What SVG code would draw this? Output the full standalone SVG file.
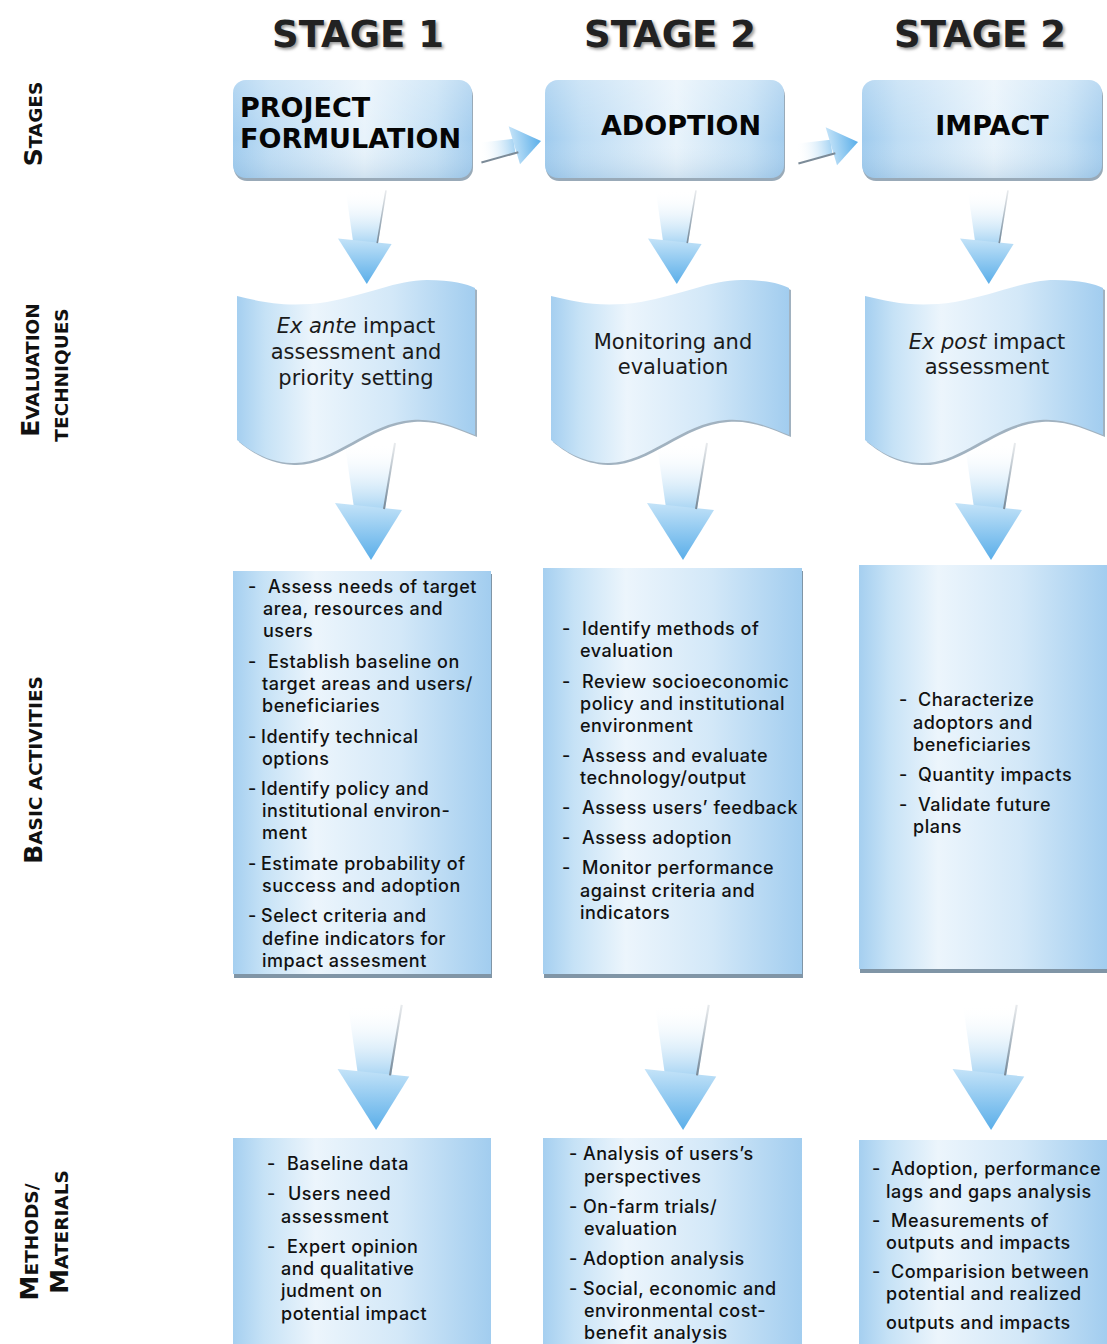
<svg xmlns="http://www.w3.org/2000/svg" xmlns:xlink="http://www.w3.org/1999/xlink" width="1107" height="1344" viewBox="0 0 1107 1344">
<style>
.hdr{font-family:"DejaVu Sans",sans-serif;font-weight:bold;font-size:37px;fill:#222;text-anchor:middle}
.bx{font-family:"DejaVu Sans",sans-serif;font-weight:bold;font-size:27px;fill:#050505}
.wav{font-family:"DejaVu Sans",sans-serif;font-size:21px;fill:#1a1a1a;text-anchor:middle}
.act{font-family:Inter,"Open Sans",sans-serif;font-weight:500;font-size:18px;letter-spacing:0.5px;fill:#111}
.lbl{font-family:"DejaVu Sans",sans-serif;font-weight:bold;font-size:18.5px;fill:#111;text-anchor:middle}
.big{font-size:25px}
.shadow{fill:#8095a6}
</style>
<defs>
<linearGradient id="gBox" x1="0" y1="0" x2="1" y2="0">
<stop offset="0" stop-color="#9fcbee"/>
<stop offset="0.15" stop-color="#bddcf4"/>
<stop offset="0.55" stop-color="#e8f3fb"/>
<stop offset="0.85" stop-color="#c4e0f5"/>
<stop offset="1" stop-color="#a4cdee"/>
</linearGradient>
<linearGradient id="gBoxV" x1="0" y1="0" x2="0" y2="1">
<stop offset="0" stop-color="#ffffff" stop-opacity="0.25"/>
<stop offset="0.6" stop-color="#ffffff" stop-opacity="0"/>
<stop offset="1" stop-color="#6d9cc4" stop-opacity="0.2"/>
</linearGradient>
<linearGradient id="gCol" x1="0" y1="0" x2="1" y2="0">
<stop offset="0" stop-color="#a5cff0"/>
<stop offset="0.12" stop-color="#c6e2f6"/>
<stop offset="0.32" stop-color="#ecf5fc"/>
<stop offset="0.65" stop-color="#d3e8f8"/>
<stop offset="1" stop-color="#a2cdef"/>
</linearGradient>
<linearGradient id="gShaft" x1="0" y1="0" x2="0" y2="1">
<stop offset="0" stop-color="#ffffff" stop-opacity="0"/>
<stop offset="1" stop-color="#a7d4f3"/>
</linearGradient>
<linearGradient id="gHead" x1="0" y1="0" x2="0" y2="1">
<stop offset="0" stop-color="#c4e3f8"/>
<stop offset="1" stop-color="#5aaee9"/>
</linearGradient>
<linearGradient id="gLine" x1="0" y1="0" x2="0" y2="1">
<stop offset="0" stop-color="#8d9aa6" stop-opacity="0.2"/>
<stop offset="1" stop-color="#7c8b98"/>
</linearGradient>
<linearGradient id="gHShaft" x1="0" y1="0" x2="1" y2="0">
<stop offset="0" stop-color="#ffffff" stop-opacity="0"/>
<stop offset="1" stop-color="#a7d4f3"/>
</linearGradient>
<linearGradient id="gHHead" x1="0" y1="0" x2="1" y2="0">
<stop offset="0" stop-color="#c4e3f8"/>
<stop offset="1" stop-color="#5aaee9"/>
</linearGradient>
<filter id="soft" x="-10%" y="-20%" width="120%" height="150%">
<feGaussianBlur stdDeviation="1.5"/>
</filter>
<g id="darrow">
<path d="M-25,-115 L25,-117 L15,-50 L-16,-52 Z" fill="url(#gShaft)"/>
<path d="M-35,-57 L32,-50 L1,0 Z" fill="url(#gHead)"/>
<path d="M25,-117 L14,-51" stroke="url(#gLine)" stroke-width="2" fill="none"/>
</g>
<g id="harrow">
<path d="M-62,-7 L-27,-6 L-27,8 L-62,12 Z" fill="url(#gHShaft)"/>
<path d="M-30,-19 L0,0 L-24,20 Z" fill="url(#gHHead)"/>
<path d="M-62,13 L-24,8" stroke="#7c8b98" stroke-width="2" fill="none"/>
</g>
<path id="wave" d="M0,16 C25,22 50,28 90,22 C130,15 160,0 190,0 C215,0 230,4 238,8 L238,155 C220,148 200,138 175,140 C130,143 95,185 55,183 C30,182 12,170 0,160 Z"/>
</defs>

<g id="row-labels">
<text class="lbl" transform="translate(42,124) rotate(-90)"><tspan class="big">S</tspan>TAGES</text>
<text class="lbl" transform="translate(39,370) rotate(-90)"><tspan class="big">E</tspan>VALUATION</text>
<text class="lbl" transform="translate(68,375) rotate(-90)">TECHNIQUES</text>
<text class="lbl" transform="translate(42,770) rotate(-90)"><tspan class="big">B</tspan>ASIC ACTIVITIES</text>
<text class="lbl" transform="translate(38,1242) rotate(-90)"><tspan class="big">M</tspan>ETHODS/</text>
<text class="lbl" transform="translate(68,1232) rotate(-90)"><tspan class="big">M</tspan>ATERIALS</text>
</g>

<g id="stage-headers">
<text class="hdr" x="360" y="49" style="fill:#9a9a9a" filter="url(#soft)">STAGE 1</text>
<text class="hdr" x="358" y="47">STAGE 1</text>
<text class="hdr" x="672" y="49" style="fill:#9a9a9a" filter="url(#soft)">STAGE 2</text>
<text class="hdr" x="670" y="47">STAGE 2</text>
<text class="hdr" x="982" y="49" style="fill:#9a9a9a" filter="url(#soft)">STAGE 2</text>
<text class="hdr" x="980" y="47">STAGE 2</text>
</g>

<g id="connectors">
<use href="#harrow" transform="translate(541,141) rotate(-8)"/>
<use href="#harrow" transform="translate(858,142) rotate(-8)"/>
<use href="#darrow" transform="translate(366,284) scale(0.8)"/>
<use href="#darrow" transform="translate(676,284) scale(0.8)"/>
<use href="#darrow" transform="translate(988,284) scale(0.8)"/>
<use href="#darrow" transform="translate(370,560)"/>
<use href="#darrow" transform="translate(682,560)"/>
<use href="#darrow" transform="translate(990,560)"/>
<use href="#darrow" transform="translate(375,1130) scale(1.07)"/>
<use href="#darrow" transform="translate(682,1130) scale(1.07)"/>
<use href="#darrow" transform="translate(990,1130) scale(1.07)"/>
</g>

<g id="stage-project-formulation">
<rect x="234" y="83" width="239" height="98" rx="13" class="shadow" opacity="0.8"/>
<rect x="233" y="80" width="239" height="98" rx="13" fill="url(#gBox)"/>
<rect x="233" y="80" width="239" height="98" rx="13" fill="url(#gBoxV)"/>
<text class="bx" x="240" y="117">PROJECT</text>
<text class="bx" x="240" y="148">FORMULATION</text>
</g>
<g id="stage-adoption">
<rect x="546" y="83" width="239" height="98" rx="13" class="shadow" opacity="0.8"/>
<rect x="545" y="80" width="239" height="98" rx="13" fill="url(#gBox)"/>
<rect x="545" y="80" width="239" height="98" rx="13" fill="url(#gBoxV)"/>
<text class="bx" x="681" y="135" text-anchor="middle">ADOPTION</text>
</g>
<g id="stage-impact">
<rect x="863" y="83" width="240" height="98" rx="13" class="shadow" opacity="0.8"/>
<rect x="862" y="80" width="240" height="98" rx="13" fill="url(#gBox)"/>
<rect x="862" y="80" width="240" height="98" rx="13" fill="url(#gBoxV)"/>
<text class="bx" x="992" y="135" text-anchor="middle">IMPACT</text>
</g>

<g id="eval-ex-ante">
<use href="#wave" transform="translate(239,282)" fill="#8a9fb0" opacity="0.8"/>
<use href="#wave" transform="translate(237,280)" fill="url(#gCol)"/>
<text class="wav" x="356" y="333"><tspan font-style="italic">Ex ante</tspan> impact</text>
<text class="wav" x="356" y="359">assessment and</text>
<text class="wav" x="356" y="385">priority setting</text>
</g>
<g id="eval-monitoring">
<use href="#wave" transform="translate(553,282)" fill="#8a9fb0" opacity="0.8"/>
<use href="#wave" transform="translate(551,280)" fill="url(#gCol)"/>
<text class="wav" x="673" y="349">Monitoring and</text>
<text class="wav" x="673" y="374">evaluation</text>
</g>
<g id="eval-ex-post">
<use href="#wave" transform="translate(867,282)" fill="#8a9fb0" opacity="0.8"/>
<use href="#wave" transform="translate(865,280)" fill="url(#gCol)"/>
<text class="wav" x="987" y="349"><tspan font-style="italic">Ex post</tspan> impact</text>
<text class="wav" x="987" y="374">assessment</text>
</g>

<g id="activities-stage1">
<rect x="234" y="574" width="258" height="404" class="shadow"/>
<rect x="233" y="571" width="258" height="403" fill="url(#gCol)"/>
<text class="act"><tspan x="248" y="593">-</tspan><tspan x="268">Assess needs of target</tspan></text>
<text class="act" x="263" y="615">area, resources and</text>
<text class="act" x="263" y="637">users</text>
<text class="act"><tspan x="248" y="668">-</tspan><tspan x="268">Establish baseline on</tspan></text>
<text class="act" x="262" y="690">target areas and users/</text>
<text class="act" x="262" y="712">beneficiaries</text>
<text class="act"><tspan x="248" y="743">-</tspan><tspan x="261">Identify technical</tspan></text>
<text class="act" x="262" y="765">options</text>
<text class="act"><tspan x="248" y="795">-</tspan><tspan x="261">Identify policy and</tspan></text>
<text class="act" x="262" y="817">institutional environ-</text>
<text class="act" x="262" y="839">ment</text>
<text class="act"><tspan x="248" y="870">-</tspan><tspan x="261">Estimate probability of</tspan></text>
<text class="act" x="262" y="892">success and adoption</text>
<text class="act"><tspan x="248" y="922">-</tspan><tspan x="261">Select criteria and</tspan></text>
<text class="act" x="262" y="945">define indicators for</text>
<text class="act" x="262" y="967">impact assesment</text>
</g>
<g id="activities-stage2">
<rect x="544" y="571" width="259" height="407" class="shadow"/>
<rect x="543" y="568" width="259" height="406" fill="url(#gCol)"/>
<text class="act"><tspan x="562" y="635">-</tspan><tspan x="582">Identify methods of</tspan></text>
<text class="act" x="580" y="657">evaluation</text>
<text class="act"><tspan x="562" y="688">-</tspan><tspan x="582">Review  socioeconomic</tspan></text>
<text class="act" x="580" y="710">policy and institutional</text>
<text class="act" x="580" y="732">environment</text>
<text class="act"><tspan x="562" y="762">-</tspan><tspan x="582">Assess and evaluate</tspan></text>
<text class="act" x="580" y="784">technology/output</text>
<text class="act"><tspan x="562" y="814">-</tspan><tspan x="582">Assess users’ feedback</tspan></text>
<text class="act"><tspan x="562" y="844">-</tspan><tspan x="582">Assess adoption</tspan></text>
<text class="act"><tspan x="562" y="874">-</tspan><tspan x="582">Monitor performance</tspan></text>
<text class="act" x="580" y="897">against criteria and</text>
<text class="act" x="580" y="919">indicators</text>
</g>
<g id="activities-stage3">
<rect x="860" y="568" width="247" height="405" class="shadow"/>
<rect x="859" y="565" width="248" height="404" fill="url(#gCol)"/>
<text class="act"><tspan x="899" y="706">-</tspan><tspan x="918">Characterize</tspan></text>
<text class="act" x="913" y="729">adoptors and</text>
<text class="act" x="913" y="751">beneficiaries</text>
<text class="act"><tspan x="899" y="781">-</tspan><tspan x="918">Quantity impacts</tspan></text>
<text class="act"><tspan x="899" y="811">-</tspan><tspan x="918">Validate future</tspan></text>
<text class="act" x="913" y="833">plans</text>
</g>

<g id="methods-stage1">
<rect x="233" y="1138" width="258" height="206" fill="url(#gCol)"/>
<text class="act"><tspan x="267" y="1170">-</tspan><tspan x="287">Baseline data</tspan></text>
<text class="act"><tspan x="267" y="1200">-</tspan><tspan x="288">Users need</tspan></text>
<text class="act" x="281" y="1223">assessment</text>
<text class="act"><tspan x="267" y="1253">-</tspan><tspan x="287">Expert opinion</tspan></text>
<text class="act" x="281" y="1275">and qualitative</text>
<text class="act" x="281" y="1297">judment on</text>
<text class="act" x="281" y="1320">potential impact</text>
</g>
<g id="methods-stage2">
<rect x="543" y="1138" width="259" height="206" fill="url(#gCol)"/>
<text class="act"><tspan x="569" y="1160">-</tspan><tspan x="583">Analysis of users’s</tspan></text>
<text class="act" x="584" y="1183">perspectives</text>
<text class="act"><tspan x="569" y="1213">-</tspan><tspan x="583">On-farm trials/</tspan></text>
<text class="act" x="584" y="1235">evaluation</text>
<text class="act"><tspan x="569" y="1265">-</tspan><tspan x="583">Adoption analysis</tspan></text>
<text class="act"><tspan x="569" y="1295">-</tspan><tspan x="583">Social, economic and</tspan></text>
<text class="act" x="584" y="1317">environmental cost-</text>
<text class="act" x="584" y="1339">benefit analysis</text>
</g>
<g id="methods-stage3">
<rect x="859" y="1140" width="248" height="204" fill="url(#gCol)"/>
<text class="act"><tspan x="872" y="1175">-</tspan><tspan x="891">Adoption, performance</tspan></text>
<text class="act" x="886" y="1198">lags and gaps analysis</text>
<text class="act"><tspan x="872" y="1227">-</tspan><tspan x="891">Measurements of</tspan></text>
<text class="act" x="886" y="1249">outputs and impacts</text>
<text class="act"><tspan x="872" y="1278">-</tspan><tspan x="891">Comparision between</tspan></text>
<text class="act" x="886" y="1300">potential and realized</text>
<text class="act" x="886" y="1329">outputs and impacts</text>
</g>
</svg>
